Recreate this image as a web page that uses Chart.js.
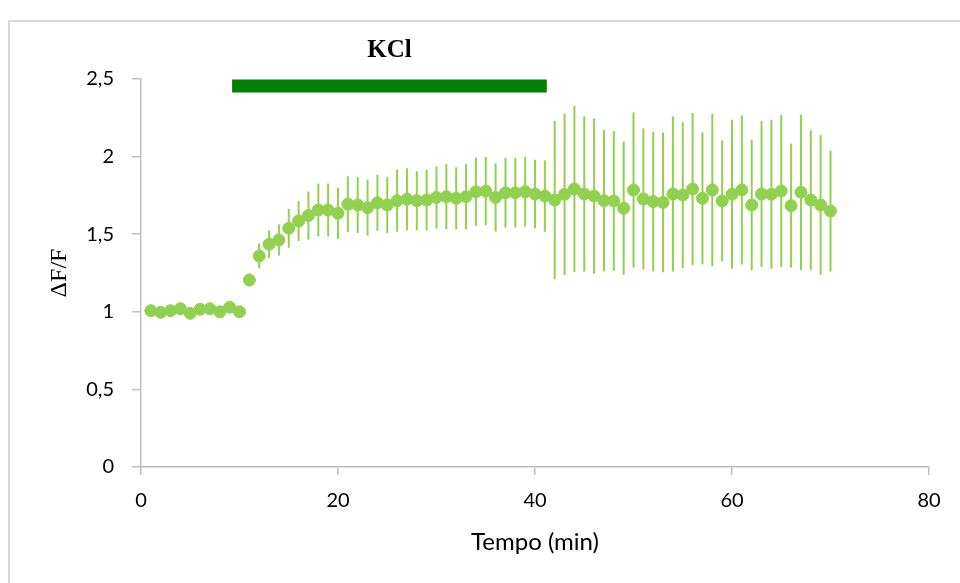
<!DOCTYPE html>
<html>
<head>
<meta charset="utf-8">
<script src="https://cdn.jsdelivr.net/npm/chart.js@4"></script>
<style>
  html, body { margin: 0; padding: 0; background: #fff; overflow: hidden; }
  #frame { position: absolute; left: 8px; top: 20px; width: 1000px; height: 700px; border: 2px solid #d9d9d9; }
  #wrap { position: absolute; left: 0; top: 0; width: 960px; height: 583px; }
</style>
</head>
<body>
<div id="frame"></div>
<div id="wrap"><canvas id="grafico" width="960" height="583"></canvas></div>
<script>
// Tempo (min)
const tempo = [1, 2, 3, 4, 5, 6, 7, 8, 9, 10,
  11, 12, 13, 14, 15, 16, 17, 18, 19, 20,
  21, 22, 23, 24, 25, 26, 27, 28, 29, 30,
  31, 32, 33, 34, 35, 36, 37, 38, 39, 40,
  41, 42, 43, 44, 45, 46, 47, 48, 49, 50,
  51, 52, 53, 54, 55, 56, 57, 58, 59, 60,
  61, 62, 63, 64, 65, 66, 67, 68, 69, 70];

// ΔF/F medio
const deltaF = [1.007, 0.997, 1.007, 1.02, 0.99, 1.016, 1.02, 1.0, 1.029, 1.0,
  1.205, 1.36, 1.435, 1.463, 1.538, 1.585, 1.62, 1.656, 1.656, 1.635,
  1.693, 1.688, 1.671, 1.703, 1.688, 1.716, 1.725, 1.716, 1.72, 1.737,
  1.742, 1.731, 1.742, 1.774, 1.778, 1.737, 1.767, 1.767, 1.774, 1.759,
  1.746, 1.72, 1.757, 1.791, 1.759, 1.746, 1.716, 1.714, 1.667, 1.785,
  1.727, 1.71, 1.705, 1.759, 1.752, 1.791, 1.731, 1.785, 1.714, 1.757,
  1.785, 1.688, 1.759, 1.757, 1.778, 1.684, 1.77, 1.72, 1.688, 1.649];

// errore (barre verticali)
const errore = [0.01, 0.01, 0.01, 0.01, 0.01, 0.01, 0.01, 0.01, 0.01, 0.01,
  0.04, 0.08, 0.09, 0.1, 0.125, 0.13, 0.155, 0.17, 0.17, 0.165,
  0.18, 0.18, 0.18, 0.18, 0.18, 0.2, 0.2, 0.19, 0.195, 0.2,
  0.21, 0.2, 0.21, 0.22, 0.22, 0.22, 0.225, 0.225, 0.225, 0.22,
  0.23, 0.51, 0.52, 0.535, 0.5, 0.5, 0.455, 0.45, 0.43, 0.5,
  0.455, 0.45, 0.45, 0.5, 0.47, 0.49, 0.425, 0.49, 0.39, 0.48,
  0.48, 0.42, 0.47, 0.48, 0.49, 0.4, 0.5, 0.45, 0.45, 0.39];

// periodo KCl
const kclInizio = 9.25;
const kclFine = 41.2;
const kclLivello = 2.455;

const verde = '#92d050';

// barre di errore disegnate prima dei punti
const barreErrore = {
  id: 'barreErrore',
  beforeDatasetsDraw(chart) {
    const ctx = chart.ctx;
    const xs = chart.scales.x, ys = chart.scales.y;
    ctx.save();
    ctx.strokeStyle = verde;
    ctx.lineWidth = 2;
    for (let i = 0; i < tempo.length; i++) {
      const px = xs.getPixelForValue(tempo[i]);
      ctx.beginPath();
      ctx.moveTo(px, ys.getPixelForValue(deltaF[i] - errore[i]));
      ctx.lineTo(px, ys.getPixelForValue(deltaF[i] + errore[i]));
      ctx.stroke();
    }
    ctx.restore();
  }
};

// etichetta KCl sopra la barra verde
const etichettaKCl = {
  id: 'etichettaKCl',
  afterDraw(chart) {
    const ctx = chart.ctx;
    const xs = chart.scales.x, ys = chart.scales.y;
    const px = xs.getPixelForValue((kclInizio + kclFine) / 2);
    const py = ys.getPixelForValue(kclLivello) - 35;
    ctx.save();
    ctx.font = 'bold 25px "Liberation Serif", "Times New Roman", serif';
    ctx.fillStyle = '#000';
    ctx.textAlign = 'center';
    ctx.textBaseline = 'middle';
    ctx.fillText('KCl', px, py);
    ctx.restore();
  }
};

const punti = tempo.map((t, i) => ({ x: t, y: deltaF[i] }));

new Chart(document.getElementById('grafico').getContext('2d'), {
  type: 'scatter',
  data: {
    datasets: [{
      label: 'ΔF/F',
      data: punti,
      backgroundColor: verde,
      borderColor: verde,
      borderWidth: 1,
      pointRadius: 6,
      showLine: false
    }, {
      label: 'KCl',
      data: [{ x: kclInizio, y: kclLivello }, { x: kclFine, y: kclLivello }],
      showLine: true,
      borderColor: '#008000',
      borderWidth: 13,
      borderCapStyle: 'butt',
      pointRadius: 0,
      clip: false
    }]
  },
  options: {
    responsive: false,
    animation: false,
    layout: { padding: { top: 79, right: 31, left: 0, bottom: 0 } },
    plugins: {
      legend: { display: false },
      tooltip: { enabled: false }
    },
    scales: {
      x: {
        type: 'linear',
        min: 0,
        max: 80,
        afterFit(scale) { scale.height = 116; },
        ticks: {
          stepSize: 20,
          color: '#000',
          padding: 14,
          font: { family: 'Lato, "Open Sans", sans-serif', size: 20 }
        },
        grid: { display: true, drawOnChartArea: false, color: '#bfbfbf', tickLength: 8, lineWidth: 1.5 },
        border: { color: '#bfbfbf', width: 1.5 },
        title: {
          display: true,
          text: 'Tempo (min)',
          color: '#000',
          padding: { top: 4, bottom: 26 },
          font: { family: 'Lato, "Open Sans", sans-serif', size: 24 }
        }
      },
      y: {
        min: 0,
        max: 2.5,
        afterFit(scale) { scale.width = 141; },
        ticks: {
          stepSize: 0.5,
          color: '#000',
          padding: 18,
          font: { family: 'Lato, "Open Sans", sans-serif', size: 20 },
          callback: (v) => String(v).replace('.', ',')
        },
        grid: { display: true, drawOnChartArea: false, color: '#bfbfbf', tickLength: 9, lineWidth: 1.5 },
        border: { color: '#bfbfbf', width: 1.5 },
        title: {
          display: true,
          text: 'ΔF/F',
          color: '#000',
          padding: { top: 45, bottom: 0 },
          font: { family: '"Liberation Serif", "Times New Roman", serif', size: 24 }
        }
      }
    }
  },
  plugins: [barreErrore, etichettaKCl]
});
</script>
</body>
</html>
